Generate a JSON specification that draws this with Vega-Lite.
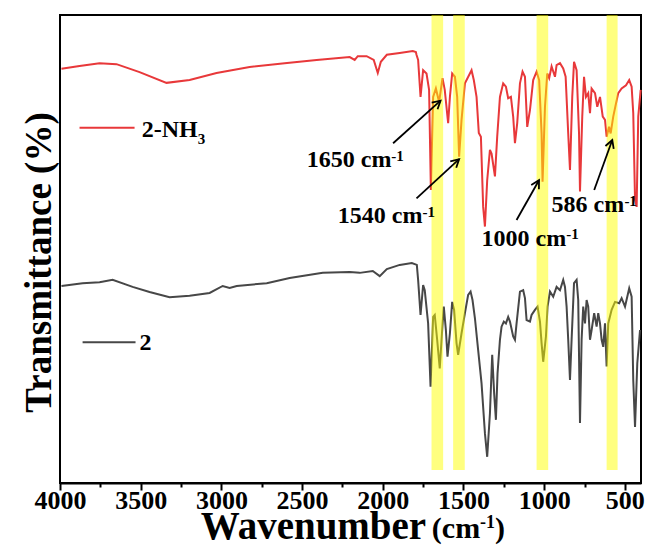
{
  "$schema": "https://vega.github.io/schema/vega-lite/v6.json",
  "width": 581,
  "height": 468,
  "autosize": {"type": "none"},
  "padding": {"left": 60, "top": 15, "right": 11, "bottom": 73},
  "background": "white",
  "config": {"view": {"stroke": "black", "strokeWidth": 2}, "font": "Liberation Serif"},
  "datasets": {
    "spectra": [
      {"s": "2-NH3", "wn": 3991, "t": 88.5}, {"s": "2-NH3", "wn": 3879, "t": 89.1}, {"s": "2-NH3", "wn": 3755, "t": 89.7},
      {"s": "2-NH3", "wn": 3650, "t": 89.5}, {"s": "2-NH3", "wn": 3507, "t": 87.8}, {"s": "2-NH3", "wn": 3340, "t": 85.5},
      {"s": "2-NH3", "wn": 3197, "t": 86.1}, {"s": "2-NH3", "wn": 3030, "t": 87.6}, {"s": "2-NH3", "wn": 2825, "t": 88.9},
      {"s": "2-NH3", "wn": 2608, "t": 89.7}, {"s": "2-NH3", "wn": 2410, "t": 90.4}, {"s": "2-NH3", "wn": 2205, "t": 91.0},
      {"s": "2-NH3", "wn": 2174, "t": 90.4}, {"s": "2-NH3", "wn": 2155, "t": 91.2}, {"s": "2-NH3", "wn": 2100, "t": 91.2},
      {"s": "2-NH3", "wn": 2056, "t": 90.4}, {"s": "2-NH3", "wn": 2031, "t": 87.6}, {"s": "2-NH3", "wn": 2012, "t": 90.0},
      {"s": "2-NH3", "wn": 1975, "t": 91.5}, {"s": "2-NH3", "wn": 1895, "t": 91.9}, {"s": "2-NH3", "wn": 1814, "t": 92.3},
      {"s": "2-NH3", "wn": 1795, "t": 92.1}, {"s": "2-NH3", "wn": 1791, "t": 91.5}, {"s": "2-NH3", "wn": 1781, "t": 90.4},
      {"s": "2-NH3", "wn": 1766, "t": 82.5}, {"s": "2-NH3", "wn": 1750, "t": 88.2}, {"s": "2-NH3", "wn": 1729, "t": 87.5},
      {"s": "2-NH3", "wn": 1713, "t": 84.0}, {"s": "2-NH3", "wn": 1702, "t": 62.6}, {"s": "2-NH3", "wn": 1688, "t": 82.5},
      {"s": "2-NH3", "wn": 1671, "t": 84.3}, {"s": "2-NH3", "wn": 1651, "t": 81.4}, {"s": "2-NH3", "wn": 1630, "t": 86.5},
      {"s": "2-NH3", "wn": 1616, "t": 84.0}, {"s": "2-NH3", "wn": 1595, "t": 76.9}, {"s": "2-NH3", "wn": 1584, "t": 82.5},
      {"s": "2-NH3", "wn": 1570, "t": 87.5}, {"s": "2-NH3", "wn": 1553, "t": 86.8}, {"s": "2-NH3", "wn": 1539, "t": 82.5},
      {"s": "2-NH3", "wn": 1527, "t": 69.7}, {"s": "2-NH3", "wn": 1512, "t": 77.6}, {"s": "2-NH3", "wn": 1491, "t": 85.4},
      {"s": "2-NH3", "wn": 1450, "t": 88.2}, {"s": "2-NH3", "wn": 1436, "t": 86.1}, {"s": "2-NH3", "wn": 1419, "t": 82.5},
      {"s": "2-NH3", "wn": 1405, "t": 74.8}, {"s": "2-NH3", "wn": 1392, "t": 74.0}, {"s": "2-NH3", "wn": 1378, "t": 59.0},
      {"s": "2-NH3", "wn": 1367, "t": 54.8}, {"s": "2-NH3", "wn": 1353, "t": 64.7}, {"s": "2-NH3", "wn": 1336, "t": 71.2},
      {"s": "2-NH3", "wn": 1326, "t": 70.4}, {"s": "2-NH3", "wn": 1305, "t": 65.5}, {"s": "2-NH3", "wn": 1291, "t": 74.0},
      {"s": "2-NH3", "wn": 1274, "t": 82.5}, {"s": "2-NH3", "wn": 1254, "t": 85.4}, {"s": "2-NH3", "wn": 1237, "t": 84.7},
      {"s": "2-NH3", "wn": 1223, "t": 82.2}, {"s": "2-NH3", "wn": 1206, "t": 82.5}, {"s": "2-NH3", "wn": 1192, "t": 78.3},
      {"s": "2-NH3", "wn": 1181, "t": 72.6}, {"s": "2-NH3", "wn": 1167, "t": 76.9}, {"s": "2-NH3", "wn": 1150, "t": 85.4},
      {"s": "2-NH3", "wn": 1134, "t": 87.9}, {"s": "2-NH3", "wn": 1119, "t": 86.8}, {"s": "2-NH3", "wn": 1105, "t": 76.1},
      {"s": "2-NH3", "wn": 1088, "t": 79.7}, {"s": "2-NH3", "wn": 1068, "t": 86.1}, {"s": "2-NH3", "wn": 1047, "t": 87.9},
      {"s": "2-NH3", "wn": 1031, "t": 86.1}, {"s": "2-NH3", "wn": 1016, "t": 74.7}, {"s": "2-NH3", "wn": 1010, "t": 64.4},
      {"s": "2-NH3", "wn": 995, "t": 80.4}, {"s": "2-NH3", "wn": 981, "t": 87.5}, {"s": "2-NH3", "wn": 969, "t": 86.5},
      {"s": "2-NH3", "wn": 954, "t": 89.0}, {"s": "2-NH3", "wn": 933, "t": 86.8}, {"s": "2-NH3", "wn": 923, "t": 89.3},
      {"s": "2-NH3", "wn": 902, "t": 89.7}, {"s": "2-NH3", "wn": 882, "t": 88.6}, {"s": "2-NH3", "wn": 867, "t": 86.8},
      {"s": "2-NH3", "wn": 851, "t": 74.7}, {"s": "2-NH3", "wn": 840, "t": 66.9}, {"s": "2-NH3", "wn": 826, "t": 82.5},
      {"s": "2-NH3", "wn": 815, "t": 90.0}, {"s": "2-NH3", "wn": 799, "t": 88.2}, {"s": "2-NH3", "wn": 784, "t": 74.7},
      {"s": "2-NH3", "wn": 778, "t": 62.3}, {"s": "2-NH3", "wn": 764, "t": 78.3}, {"s": "2-NH3", "wn": 753, "t": 86.8},
      {"s": "2-NH3", "wn": 741, "t": 82.5}, {"s": "2-NH3", "wn": 727, "t": 83.3}, {"s": "2-NH3", "wn": 716, "t": 79.0},
      {"s": "2-NH3", "wn": 706, "t": 84.3}, {"s": "2-NH3", "wn": 685, "t": 83.3}, {"s": "2-NH3", "wn": 671, "t": 80.4},
      {"s": "2-NH3", "wn": 654, "t": 82.5}, {"s": "2-NH3", "wn": 637, "t": 78.3}, {"s": "2-NH3", "wn": 623, "t": 77.6},
      {"s": "2-NH3", "wn": 613, "t": 74.0}, {"s": "2-NH3", "wn": 598, "t": 76.1}, {"s": "2-NH3", "wn": 588, "t": 74.7},
      {"s": "2-NH3", "wn": 572, "t": 78.3}, {"s": "2-NH3", "wn": 555, "t": 81.1}, {"s": "2-NH3", "wn": 541, "t": 83.3},
      {"s": "2-NH3", "wn": 520, "t": 84.3}, {"s": "2-NH3", "wn": 493, "t": 85.0}, {"s": "2-NH3", "wn": 473, "t": 86.1},
      {"s": "2-NH3", "wn": 458, "t": 84.7}, {"s": "2-NH3", "wn": 448, "t": 79.0}, {"s": "2-NH3", "wn": 437, "t": 60.5},
      {"s": "2-NH3", "wn": 427, "t": 59.0}, {"s": "2-NH3", "wn": 417, "t": 78.3}, {"s": "2-NH3", "wn": 402, "t": 84.0},

      {"s": "2", "wn": 3991, "t": 42.1}, {"s": "2", "wn": 3860, "t": 42.7}, {"s": "2", "wn": 3755, "t": 42.9},
      {"s": "2", "wn": 3674, "t": 43.4}, {"s": "2", "wn": 3550, "t": 41.9}, {"s": "2", "wn": 3445, "t": 40.8},
      {"s": "2", "wn": 3321, "t": 39.7}, {"s": "2", "wn": 3197, "t": 40.0}, {"s": "2", "wn": 3073, "t": 40.6},
      {"s": "2", "wn": 2992, "t": 42.1}, {"s": "2", "wn": 2949, "t": 41.7}, {"s": "2", "wn": 2905, "t": 42.1},
      {"s": "2", "wn": 2719, "t": 42.7}, {"s": "2", "wn": 2577, "t": 43.8}, {"s": "2", "wn": 2372, "t": 44.9},
      {"s": "2", "wn": 2205, "t": 45.1}, {"s": "2", "wn": 2143, "t": 44.9}, {"s": "2", "wn": 2062, "t": 45.3},
      {"s": "2", "wn": 2019, "t": 44.2}, {"s": "2", "wn": 1975, "t": 45.7}, {"s": "2", "wn": 1895, "t": 46.6},
      {"s": "2", "wn": 1820, "t": 47.0}, {"s": "2", "wn": 1789, "t": 46.6}, {"s": "2", "wn": 1781, "t": 43.4},
      {"s": "2", "wn": 1766, "t": 35.9}, {"s": "2", "wn": 1750, "t": 42.3}, {"s": "2", "wn": 1740, "t": 41.2},
      {"s": "2", "wn": 1719, "t": 34.1}, {"s": "2", "wn": 1704, "t": 20.6}, {"s": "2", "wn": 1688, "t": 35.5},
      {"s": "2", "wn": 1678, "t": 35.9}, {"s": "2", "wn": 1663, "t": 30.6}, {"s": "2", "wn": 1647, "t": 24.5},
      {"s": "2", "wn": 1632, "t": 32.7}, {"s": "2", "wn": 1622, "t": 37.7}, {"s": "2", "wn": 1609, "t": 32.7},
      {"s": "2", "wn": 1599, "t": 27.0}, {"s": "2", "wn": 1584, "t": 32.0}, {"s": "2", "wn": 1570, "t": 38.7},
      {"s": "2", "wn": 1558, "t": 37.0}, {"s": "2", "wn": 1543, "t": 29.9}, {"s": "2", "wn": 1533, "t": 27.4},
      {"s": "2", "wn": 1512, "t": 32.0}, {"s": "2", "wn": 1491, "t": 36.3}, {"s": "2", "wn": 1471, "t": 40.2},
      {"s": "2", "wn": 1456, "t": 40.9}, {"s": "2", "wn": 1444, "t": 39.1}, {"s": "2", "wn": 1429, "t": 35.2},
      {"s": "2", "wn": 1409, "t": 28.4}, {"s": "2", "wn": 1388, "t": 21.3}, {"s": "2", "wn": 1367, "t": 10.6},
      {"s": "2", "wn": 1353, "t": 5.6}, {"s": "2", "wn": 1336, "t": 14.9}, {"s": "2", "wn": 1322, "t": 27.4},
      {"s": "2", "wn": 1310, "t": 19.2}, {"s": "2", "wn": 1299, "t": 13.5}, {"s": "2", "wn": 1289, "t": 23.4},
      {"s": "2", "wn": 1274, "t": 30.6}, {"s": "2", "wn": 1264, "t": 33.4}, {"s": "2", "wn": 1250, "t": 34.5},
      {"s": "2", "wn": 1237, "t": 34.1}, {"s": "2", "wn": 1223, "t": 35.5}, {"s": "2", "wn": 1212, "t": 34.5},
      {"s": "2", "wn": 1192, "t": 31.3}, {"s": "2", "wn": 1181, "t": 30.6}, {"s": "2", "wn": 1171, "t": 34.1},
      {"s": "2", "wn": 1150, "t": 40.9}, {"s": "2", "wn": 1130, "t": 41.2}, {"s": "2", "wn": 1119, "t": 39.5},
      {"s": "2", "wn": 1109, "t": 34.8}, {"s": "2", "wn": 1088, "t": 34.5}, {"s": "2", "wn": 1078, "t": 35.9},
      {"s": "2", "wn": 1057, "t": 37.0}, {"s": "2", "wn": 1041, "t": 37.7}, {"s": "2", "wn": 1026, "t": 34.5},
      {"s": "2", "wn": 1016, "t": 29.9}, {"s": "2", "wn": 1006, "t": 25.9}, {"s": "2", "wn": 989, "t": 31.3},
      {"s": "2", "wn": 979, "t": 37.7}, {"s": "2", "wn": 964, "t": 40.9}, {"s": "2", "wn": 944, "t": 39.8},
      {"s": "2", "wn": 923, "t": 41.9}, {"s": "2", "wn": 902, "t": 41.2}, {"s": "2", "wn": 882, "t": 43.4},
      {"s": "2", "wn": 871, "t": 41.9}, {"s": "2", "wn": 861, "t": 37.7}, {"s": "2", "wn": 851, "t": 30.6},
      {"s": "2", "wn": 840, "t": 22.0}, {"s": "2", "wn": 830, "t": 30.6}, {"s": "2", "wn": 815, "t": 42.7},
      {"s": "2", "wn": 799, "t": 43.4}, {"s": "2", "wn": 789, "t": 39.1}, {"s": "2", "wn": 778, "t": 12.8},
      {"s": "2", "wn": 768, "t": 30.6}, {"s": "2", "wn": 758, "t": 37.7}, {"s": "2", "wn": 747, "t": 34.1},
      {"s": "2", "wn": 737, "t": 39.1}, {"s": "2", "wn": 727, "t": 37.7}, {"s": "2", "wn": 716, "t": 30.6},
      {"s": "2", "wn": 706, "t": 32.7}, {"s": "2", "wn": 690, "t": 36.3}, {"s": "2", "wn": 675, "t": 33.4},
      {"s": "2", "wn": 665, "t": 36.3}, {"s": "2", "wn": 654, "t": 34.1}, {"s": "2", "wn": 644, "t": 30.6},
      {"s": "2", "wn": 634, "t": 29.1}, {"s": "2", "wn": 623, "t": 34.1}, {"s": "2", "wn": 613, "t": 24.9},
      {"s": "2", "wn": 603, "t": 34.1}, {"s": "2", "wn": 582, "t": 37.0}, {"s": "2", "wn": 561, "t": 38.7},
      {"s": "2", "wn": 535, "t": 38.4}, {"s": "2", "wn": 520, "t": 39.5}, {"s": "2", "wn": 499, "t": 37.7},
      {"s": "2", "wn": 473, "t": 41.6}, {"s": "2", "wn": 458, "t": 39.8}, {"s": "2", "wn": 448, "t": 22.0},
      {"s": "2", "wn": 437, "t": 12.0}, {"s": "2", "wn": 423, "t": 25.6}, {"s": "2", "wn": 406, "t": 32.7}
    ],
    "bands": [
      {"peak": 1650, "lo": 1626, "hi": 1698},
      {"peak": 1540, "lo": 1492, "hi": 1564},
      {"peak": 1000, "lo": 975, "hi": 1047},
      {"peak": 586, "lo": 545, "hi": 613}
    ],
    "legend": [
      {"s": "2-NH3", "a": 3879, "b": 3538, "y": 75.9},
      {"s": "2", "a": 3860, "b": 3532, "y": 30.1}
    ],
    "arrows": [
      {"peak": 1650, "x0": 1936, "y0": 72.6, "x1": 1642, "y1": 81.7},
      {"peak": 1540, "x0": 1791, "y0": 60.8, "x1": 1527, "y1": 69.2},
      {"peak": 1000, "x0": 1171, "y0": 56.2, "x1": 1032, "y1": 64.7},
      {"peak": 586, "x0": 690, "y0": 62.6, "x1": 578, "y1": 73.3}
    ],
    "texts": [
      {"g": "main", "t": "1650 cm", "x": 2471, "y": 67.5},
      {"g": "main", "t": "1540 cm", "x": 2279, "y": 55.5},
      {"g": "main", "t": "1000 cm", "x": 1388, "y": 50.6},
      {"g": "main", "t": "586 cm", "x": 954, "y": 57.8},
      {"g": "main", "t": "2-NH", "x": 3494, "y": 73.9},
      {"g": "main", "t": "2", "x": 3507, "y": 28.4},
      {"g": "small", "t": "-1", "x": 1947, "y": 68.9},
      {"g": "small", "t": "-1", "x": 1754, "y": 56.9},
      {"g": "small", "t": "-1", "x": 863, "y": 52.1},
      {"g": "small", "t": "-1", "x": 503, "y": 59.2},
      {"g": "small", "t": "3", "x": 3147, "y": 72.5},
      {"g": "unit", "t": "(cm", "x": 1696, "y": -11.8},
      {"g": "unit", "t": ")", "x": 1305, "y": -11.8},
      {"g": "unitsup", "t": "-1", "x": 1398, "y": -9.7}
    ]
  },
  "layer": [
    {
      "data": {"name": "spectra"},
      "mark": {"type": "line", "strokeWidth": 2},
      "encoding": {
        "x": {
          "field": "wn", "type": "quantitative",
          "scale": {"domain": [400, 4000], "reverse": true, "nice": false, "zero": false},
          "axis": {
            "values": [4000, 3750, 3500, 3250, 3000, 2750, 2500, 2250, 2000, 1750, 1500, 1250, 1000, 750, 500],
            "format": "d",
            "labelExpr": "datum.value % 500 === 0 ? datum.label : ''",
            "labelOverlap": false, "labelFlush": false,
            "tickSize": {"condition": {"test": "datum.value % 500 === 0", "value": 7}, "value": 4},
            "tickColor": "black", "tickWidth": 2,
            "domainColor": "black", "domainWidth": 2,
            "grid": false,
            "labelFont": "Liberation Serif", "labelFontSize": 26, "labelFontWeight": "bold", "labelColor": "black",
            "labelPadding": -3,
            "title": "Wavenumber",
            "titleFont": "Liberation Serif", "titleFontSize": 39, "titleFontWeight": "bold", "titleColor": "black",
            "titleX": 253, "titleY": 55, "titleAlign": "center", "titleBaseline": "alphabetic"
          }
        },
        "y": {
          "field": "t", "type": "quantitative",
          "scale": {"domain": [0, 100], "nice": false, "zero": false},
          "axis": {
            "domain": false, "ticks": false, "labels": false, "grid": false,
            "title": "Transmittance (%)",
            "titleFont": "Liberation Serif", "titleFontSize": 37, "titleFontWeight": "bold", "titleColor": "black",
            "titleAngle": -90, "titleX": -10, "titleY": 247, "titleAlign": "center", "titleBaseline": "alphabetic"
          }
        },
        "color": {
          "field": "s", "type": "nominal",
          "scale": {"domain": ["2-NH3", "2"], "range": ["#E8383A", "#474747"]},
          "legend": null
        }
      }
    },
    {
      "data": {"name": "bands"},
      "mark": {"type": "rect", "color": "#FFFF00", "opacity": 0.5},
      "encoding": {
        "x": {"field": "lo", "type": "quantitative"},
        "x2": {"field": "hi"},
        "y": {"datum": 2.8, "type": "quantitative"},
        "y2": {"datum": 100}
      }
    },
    {
      "data": {"name": "legend"},
      "mark": {"type": "rule", "strokeWidth": 2},
      "encoding": {
        "x": {"field": "a", "type": "quantitative"},
        "x2": {"field": "b"},
        "y": {"field": "y", "type": "quantitative"},
        "color": {"field": "s", "type": "nominal", "legend": null}
      }
    },
    {
      "data": {"name": "arrows"},
      "mark": {"type": "rule", "color": "black", "strokeWidth": 1.8},
      "encoding": {
        "x": {"field": "x0", "type": "quantitative"},
        "x2": {"field": "x1"},
        "y": {"field": "y0", "type": "quantitative"},
        "y2": {"field": "y1"}
      }
    },
    {
      "data": {"name": "arrows"},
      "transform": [
        {"calculate": "atan2((datum.x0 - datum.x1) * 0.16125, (datum.y1 - datum.y0) * 4.68) * 180 / PI", "as": "ang"}
      ],
      "mark": {"type": "point", "shape": "M -0.55 1 L 0 0 L 0.55 1", "filled": false, "color": "black", "strokeWidth": 1.8, "size": 256, "opacity": 1},
      "encoding": {
        "x": {"field": "x1", "type": "quantitative"},
        "y": {"field": "y1", "type": "quantitative"},
        "angle": {"field": "ang", "type": "quantitative", "scale": null}
      }
    },
    {
      "data": {"name": "texts"},
      "transform": [{"filter": "datum.g === 'main'"}],
      "mark": {"type": "text", "align": "left", "baseline": "alphabetic", "font": "Liberation Serif", "fontWeight": "bold", "fontSize": 24, "color": "black"},
      "encoding": {
        "x": {"field": "x", "type": "quantitative"},
        "y": {"field": "y", "type": "quantitative"},
        "text": {"field": "t"}
      }
    },
    {
      "data": {"name": "texts"},
      "transform": [{"filter": "datum.g === 'small'"}],
      "mark": {"type": "text", "align": "left", "baseline": "alphabetic", "font": "Liberation Serif", "fontWeight": "bold", "fontSize": 15, "color": "black"},
      "encoding": {
        "x": {"field": "x", "type": "quantitative"},
        "y": {"field": "y", "type": "quantitative"},
        "text": {"field": "t"}
      }
    },
    {
      "data": {"name": "texts"},
      "transform": [{"filter": "datum.g === 'unit'"}],
      "mark": {"type": "text", "align": "left", "baseline": "alphabetic", "font": "Liberation Serif", "fontWeight": "bold", "fontSize": 30, "color": "black"},
      "encoding": {
        "x": {"field": "x", "type": "quantitative"},
        "y": {"field": "y", "type": "quantitative"},
        "text": {"field": "t"}
      }
    },
    {
      "data": {"name": "texts"},
      "transform": [{"filter": "datum.g === 'unitsup'"}],
      "mark": {"type": "text", "align": "left", "baseline": "alphabetic", "font": "Liberation Serif", "fontWeight": "bold", "fontSize": 18, "color": "black"},
      "encoding": {
        "x": {"field": "x", "type": "quantitative"},
        "y": {"field": "y", "type": "quantitative"},
        "text": {"field": "t"}
      }
    }
  ]
}
